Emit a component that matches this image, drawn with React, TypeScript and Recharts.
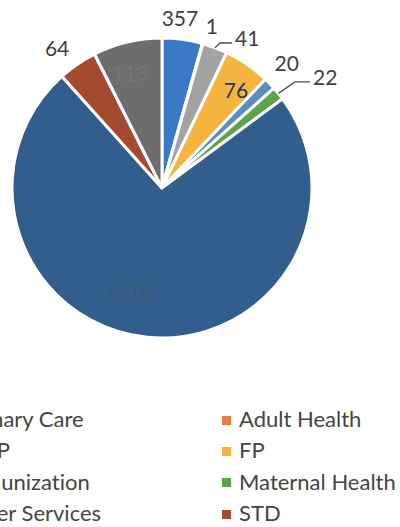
import React from 'react';
import { PieChart, Pie, Cell, Legend } from 'recharts';

// service categories, in legend order (Excel fills rows left to right)
const services = [
  'Primary Care',
  'Adult Health',
  'CHIP',
  'FP',
  'Immunization',
  'Maternal Health',
  'Other Services',
  'STD',
  'TB',
];
// slice sizes
const visits = [66, 1, 41, 76, 20, 22, 1118, 64, 113];
// numbers printed on the chart
const dataLabels = ['357', '1', '41', '76', '20', '22', '1118', '64', '113'];
const colors = [
  '#3b78c8',
  '#ee7d3c',
  '#a3a3a3',
  '#f5b440',
  '#5b8dc2',
  '#5ea24a',
  '#325e8e',
  '#a44a2e',
  '#6d6d6d',
];

const data = services.map((name, i) => ({ name, value: visits[i] }));

const FONT = 'Lato, "Open Sans", sans-serif';
const RAD = Math.PI / 180;

// label placement: radius as a share of the pie radius, angle nudge (clockwise deg)
const labelLayout: any[] = [
  { r: 1.14, dA: -1.8, fill: '#404040' },
  { r: 1.133, dA: 1.3, fill: '#404040' },
  { leader: [5, -4.7, 12], fill: '#404040' },
  { r: 0.82, dA: 2.4, fill: '#1f3a5f' },
  { r: 1.18, dA: -1.1, fill: '#404040' },
  { leader: [16.6, -11.4, 15], fill: '#404040' },
  { r: 0.71, dA: 12.6, fill: '#3b5972' },
  { r: 1.17, dA: -2.4, fill: '#404040' },
  { r: 0.8, dA: -2, fill: '#767676' },
];

const renderLabel = (props: any) => {
  const { cx, cy, midAngle, outerRadius, index } = props;
  const cfg = labelLayout[index];
  if (cfg.leader) {
    const [dx1, dy1, len] = cfg.leader;
    const x0 = cx + outerRadius * Math.cos(-midAngle * RAD);
    const y0 = cy + outerRadius * Math.sin(-midAngle * RAD);
    const x1 = x0 + dx1;
    const y1 = y0 + dy1;
    const x2 = x1 + len;
    return (
      <g key={`lbl-${index}`}>
        <polyline
          points={`${x0},${y0} ${x1},${y1} ${x2},${y1}`}
          fill="none"
          stroke="#505050"
          strokeWidth={1.3}
        />
        <text
          x={x2 + 3}
          y={y1 - 5}
          fill={cfg.fill}
          fontFamily={FONT}
          fontSize={21}
          textAnchor="start"
          dominantBaseline="central"
        >
          {dataLabels[index]}
        </text>
      </g>
    );
  }
  const a = midAngle - cfg.dA;
  const r = outerRadius * cfg.r;
  const x = cx + r * Math.cos(-a * RAD);
  const y = cy + r * Math.sin(-a * RAD);
  return (
    <text
      key={`lbl-${index}`}
      x={x}
      y={y}
      fill={cfg.fill}
      fontFamily={FONT}
      fontSize={21}
      textAnchor="middle"
      dominantBaseline="central"
    >
      {dataLabels[index]}
    </text>
  );
};

const renderLegend = (props: any) => {
  // keep the data order instead of the alphabetical one
  const items = [...(props.payload || [])].sort(
    (a: any, b: any) => services.indexOf(a.value) - services.indexOf(b.value)
  );
  return (
    <div
      style={{
        display: 'grid',
        gridTemplateColumns: '280px 280px',
        fontFamily: FONT,
        fontSize: 22,
        fontVariantLigatures: 'none',
        color: '#454545',
        lineHeight: '31.3px',
      }}
    >
      {items.map((p: any, i: number) => (
        <div key={i} style={{ display: 'flex', alignItems: 'center', whiteSpace: 'nowrap' }}>
          <span
            style={{
              display: 'inline-block',
              width: 9,
              height: 9,
              background: p.color,
              marginRight: 8,
              marginTop: 3,
            }}
          />
          {p.value}
        </div>
      ))}
    </div>
  );
};

export default function App() {
  return (
    <div style={{ position: 'fixed', left: 0, top: 0, width: 400, height: 527, overflow: 'hidden', background: '#fff' }}>
      <div style={{ position: 'absolute', left: -60, top: 0 }}>
        <PieChart width={470} height={560} margin={{ top: 0, right: 0, bottom: 0, left: 0 }}>
          <Pie
            data={data}
            dataKey="value"
            nameKey="name"
            cx={222}
            cy={188}
            outerRadius={150}
            startAngle={90}
            endAngle={-270}
            stroke="#ffffff"
            strokeWidth={3}
            label={renderLabel}
            labelLine={false}
            legendType="square"
            isAnimationActive={false}
          >
            {data.map((d, i) => (
              <Cell key={d.name} fill={colors[i]} />
            ))}
          </Pie>
          <Legend
            content={renderLegend}
            wrapperStyle={{ left: 2, top: 403, width: 570 }}
          />
        </PieChart>
      </div>
    </div>
  );
}
